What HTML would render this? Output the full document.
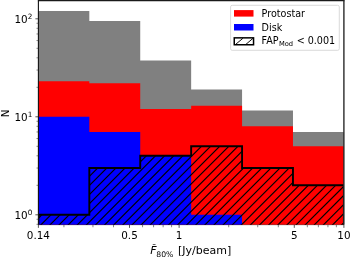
<!DOCTYPE html>
<html><head><meta charset="utf-8"><title>Histogram</title><style>html,body{margin:0;padding:0;background:#fff;overflow:hidden}</style></head><body>
<svg width="350" height="257" viewBox="0 0 350 257" style="display:block" font-family="'DejaVu Sans','Liberation Sans',sans-serif">
<rect width="350" height="257" fill="#fff"/>
<path d="M38.40,224.85 L38.40,11.04 L89.32,11.04 L89.32,20.98 L140.23,20.98 L140.23,60.54 L191.15,60.54 L191.15,89.48 L242.07,89.48 L242.07,110.48 L292.98,110.48 L292.98,131.98 L343.90,131.98 L343.90,224.85 Z" fill="#808080"/>
<path d="M38.40,224.85 L38.40,81.35 L89.32,81.35 L89.32,83.24 L140.23,83.24 L140.23,109.04 L191.15,109.04 L191.15,105.63 L242.07,105.63 L242.07,126.30 L292.98,126.30 L292.98,146.30 L343.90,146.30 L343.90,224.85 Z" fill="#ff0000"/>
<path d="M38.40,224.85 L38.40,116.80 L89.32,116.80 L89.32,131.98 L140.23,131.98 L140.23,155.80 L191.15,155.80 L191.15,214.80 L242.07,214.80 L242.07,224.85 Z" fill="#0000ff"/>
<clipPath id="st"><path d="M38.40,224.85 L38.40,214.80 L89.32,214.80 L89.32,168.04 L140.23,168.04 L140.23,155.80 L191.15,155.80 L191.15,146.30 L242.07,146.30 L242.07,168.04 L292.98,168.04 L292.98,185.30 L343.90,185.30 L343.90,224.85 Z"/></clipPath>
<path d="M20.65,226.85 L147.50,100 M29.77,226.85 L156.62,100 M38.88,226.85 L165.73,100 M48.00,226.85 L174.85,100 M57.11,226.85 L183.96,100 M66.23,226.85 L193.08,100 M75.34,226.85 L202.19,100 M84.46,226.85 L211.31,100 M93.57,226.85 L220.42,100 M102.69,226.85 L229.54,100 M111.80,226.85 L238.65,100 M120.92,226.85 L247.77,100 M130.03,226.85 L256.88,100 M139.15,226.85 L266.00,100 M148.26,226.85 L275.11,100 M157.38,226.85 L284.23,100 M166.49,226.85 L293.34,100 M175.61,226.85 L302.46,100 M184.72,226.85 L311.57,100 M193.84,226.85 L320.69,100 M202.95,226.85 L329.80,100 M212.07,226.85 L338.92,100 M221.18,226.85 L348.03,100 M230.30,226.85 L357.15,100 M239.41,226.85 L366.26,100 M248.53,226.85 L375.38,100 M257.64,226.85 L384.49,100 M266.76,226.85 L393.61,100 M275.87,226.85 L402.72,100 M284.99,226.85 L411.84,100 M294.10,226.85 L420.95,100 M303.22,226.85 L430.07,100 M312.33,226.85 L439.18,100 M321.45,226.85 L448.30,100 M330.56,226.85 L457.41,100 M339.68,226.85 L466.53,100 M348.79,226.85 L475.64,100" stroke="#000" stroke-width="1.15" fill="none" clip-path="url(#st)"/>
<clipPath id="ax"><rect x="38.4" y="0.6" width="305.5" height="224.25"/></clipPath>
<path d="M38.40,224.85 L38.40,214.80 L89.32,214.80 L89.32,168.04 L140.23,168.04 L140.23,155.80 L191.15,155.80 L191.15,146.30 L242.07,146.30 L242.07,168.04 L292.98,168.04 L292.98,185.30 L343.90,185.30 L343.90,224.85" fill="none" stroke="#000" stroke-width="1.9" stroke-linejoin="miter" clip-path="url(#ax)"/>
<path d="M37.85,0.6 H344.59999999999997" stroke="#1a1a1a" stroke-width="1.2"/>
<path d="M38.4,0.6 V224.85" stroke="#111" stroke-width="1.1"/>
<path d="M343.9,0.6 V224.85" stroke="#2a2a2a" stroke-width="1.4"/>
<path d="M38.4,224.85 H343.9" stroke="#000" stroke-opacity="0.45" stroke-width="0.6"/>
<path d="M38.4,214.80 h-3.0 M38.4,116.80 h-3.0 M38.4,18.80 h-3.0" stroke="#222" stroke-width="0.75"/>
<path d="M38.4,224.30 h-1.9 M38.4,219.28 h-1.9 M38.4,185.30 h-1.9 M38.4,168.04 h-1.9 M38.4,155.80 h-1.9 M38.4,146.30 h-1.9 M38.4,138.54 h-1.9 M38.4,131.98 h-1.9 M38.4,126.30 h-1.9 M38.4,121.28 h-1.9 M38.4,87.30 h-1.9 M38.4,70.04 h-1.9 M38.4,57.80 h-1.9 M38.4,48.30 h-1.9 M38.4,40.54 h-1.9 M38.4,33.98 h-1.9 M38.4,28.30 h-1.9 M38.4,23.28 h-1.9" stroke="#333" stroke-width="0.6"/>
<path d="M38.40,224.85 v3.0 M129.50,224.85 v3.0 M179.11,224.85 v3.0 M294.29,224.85 v3.0 M343.90,224.85 v3.0" stroke="#222" stroke-width="0.75"/>
<path d="M63.93,224.85 v2.4 M92.94,224.85 v2.4 M113.53,224.85 v2.4 M142.55,224.85 v2.4 M153.58,224.85 v2.4 M163.14,224.85 v2.4 M171.57,224.85 v2.4 M228.72,224.85 v2.4 M257.73,224.85 v2.4 M278.32,224.85 v2.4 M307.34,224.85 v2.4 M318.37,224.85 v2.4 M327.93,224.85 v2.4 M336.36,224.85 v2.4" stroke="#333" stroke-width="0.6"/>
<text x="38.40" y="238.7" font-size="10.4" text-anchor="middle" fill="#000">0.14</text>
<text x="129.50" y="238.7" font-size="10.4" text-anchor="middle" fill="#000">0.5</text>
<text x="179.11" y="238.7" font-size="10.4" text-anchor="middle" fill="#000">1</text>
<text x="294.29" y="238.7" font-size="10.4" text-anchor="middle" fill="#000">5</text>
<text x="343.90" y="238.7" font-size="10.4" text-anchor="middle" fill="#000">10</text>
<text x="32.3" y="218.50" font-size="10.4" text-anchor="end" fill="#000">10<tspan font-size="7.28" dy="-4.0">0</tspan></text>
<text x="32.3" y="120.50" font-size="10.4" text-anchor="end" fill="#000">10<tspan font-size="7.28" dy="-4.0">1</tspan></text>
<text x="32.3" y="22.50" font-size="10.4" text-anchor="end" fill="#000">10<tspan font-size="7.28" dy="-4.0">2</tspan></text>
<text transform="translate(8.9,113.3) rotate(-90)" font-size="10.4" text-anchor="middle" fill="#000">N</text>
<text y="253.7" font-size="11.0" fill="#000"><tspan x="150.3" font-style="italic">F</tspan><tspan x="151.8" y="250.6" font-size="9.5">&#175;</tspan><tspan x="156.3" y="256.5" font-size="7.70">80%</tspan><tspan x="178.0" y="253.7">[Jy/beam]</tspan></text>
<rect x="230.6" y="5.3" width="108.7" height="45.0" rx="1.6" ry="1.6" fill="#fff" fill-opacity="0.8" stroke="#d0d0d0" stroke-width="0.8"/>
<rect x="234" y="10.1" width="19.5" height="6.5" fill="#ff0000"/>
<rect x="234" y="24" width="19.5" height="6.5" fill="#0000ff"/>
<rect x="234.25" y="37.85" width="19.3" height="6.9" fill="#fff" stroke="#000" stroke-width="1.5"/>
<path d="M235.6,44.4 L242.9,38.3 M245.9,44.4 L253.0,38.3" stroke="#000" stroke-width="0.95" fill="none"/>
<text x="261.6" y="16.6" font-size="9.6" fill="#000">Protostar</text>
<text x="261.6" y="30.9" font-size="9.6" fill="#000">Disk</text>
<text x="261.6" y="44.4" font-size="9.6" fill="#000">FAP<tspan font-size="6.72" dx="0.3" dy="1.6">Mod</tspan><tspan dx="0.5" dy="-1.6"> &lt; 0.001</tspan></text>
</svg>
</body></html>
